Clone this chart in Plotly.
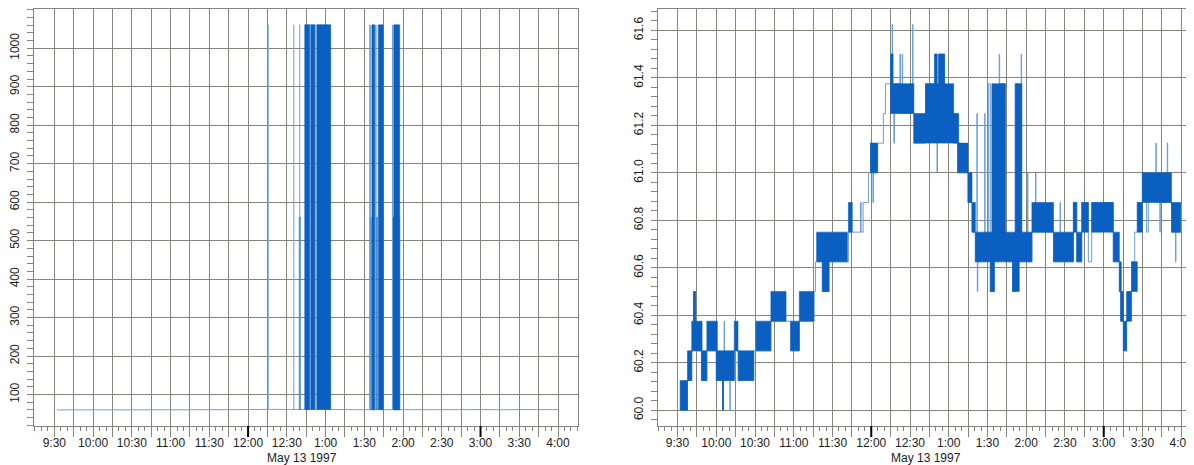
import pandas as pd
import plotly.graph_objects as go

OPEN = pd.Timestamp("1997-05-13 09:30")
DATE_LABEL = "May 13 1997"

# ---------------- cleaned trade path (minutes after the 9:30 open, price) ----------------
tick_min = [2.0, 7.7, 11.0, 12.4, 13.9, 18.5, 22.7, 30.0, 34.8, 35.6, 36.1, 36.4, 40.5, 40.8,
            43.9, 47.0, 59.0, 72.3, 84.0, 87.6, 94.3, 105.6, 106.8, 112.1, 117.3, 132.3,
            141.7, 142.2, 143.7, 147.8, 149.4, 151.3, 151.7, 154.9, 159.4, 161.0, 165.3,
            166.2, 166.5, 167.5, 168.0, 172.2, 172.6, 174.0, 174.3, 182.0, 182.3, 183.0,
            192.0, 199.1, 200.9, 201.3, 202.2, 206.8, 213.8, 216.9, 224.9, 228.0, 230.6,
            231.8, 232.1, 232.5, 237.8, 238.1, 240.9, 242.2, 245.3, 249.1, 249.4, 253.8,
            259.4, 261.5, 264.6, 266.1, 266.4, 271.0, 271.3, 274.4, 277.2, 277.5, 291.1,
            296.2, 296.5, 306.5, 309.1, 313.0, 318.1, 320.7, 337.4, 342.1, 343.1, 345.2,
            347.7, 349.0, 351.6, 354.0, 356.0, 359.9, 363.2, 364.5, 370.4, 370.7, 373.5,
            373.8, 379.2, 379.5, 382.5, 385.6, 385.9, 389.5, 390.0]
tick_price = [60.0, 60.125, 60.25, 60.5, 60.25, 60.125, 60.25, 60.125, 60.0, 60.125, 60.375,
              60.125, 60.0, 60.125, 60.25, 60.125, 60.25, 60.375, 60.375, 60.25, 60.375, 60.5,
              60.625, 60.5, 60.625, 60.75, 60.875, 60.75, 60.875, 61.0, 61.125, 60.875, 61.0,
              61.125, 61.25, 61.375, 61.5, 61.625, 61.25, 61.125, 61.375, 61.5, 61.25, 61.5,
              61.25, 61.625, 61.25, 61.125, 61.375, 61.5, 61.0, 61.25, 61.5, 61.25, 61.125,
              61.0, 60.875, 60.75, 60.625, 61.25, 60.5, 60.625, 61.25, 60.625, 61.375, 60.5,
              60.625, 61.5, 61.375, 60.625, 60.5, 61.375, 60.625, 61.5, 60.625, 61.0, 60.625,
              60.75, 61.0, 60.75, 60.625, 60.875, 60.625, 60.875, 60.625, 60.875, 60.625,
              60.875, 60.625, 60.5, 60.375, 60.25, 60.375, 60.5, 60.625, 60.75, 60.875, 61.0,
              60.75, 61.0, 61.125, 60.875, 60.75, 60.875, 61.125, 60.875, 60.75, 60.625, 60.75,
              60.875, 60.75]

# ---------------- dense trading bands (price bounced between low and high) ----------------
blk_start_min = [2.0, 7.7, 11.0, 12.4, 18.5, 22.7, 30.0, 34.8, 43.9, 47.0, 60.8, 72.3, 87.6,
                 94.3, 107.7, 112.1, 132.3, 149.4, 164.9, 164.9, 183.0, 192.0, 199.1, 202.2,
                 216.9, 224.9, 228.0, 230.6, 243.4, 242.2, 261.5, 259.4, 274.4, 291.1, 306.5,
                 309.1, 313.0, 320.7, 337.4, 342.1, 343.1, 345.2, 347.7, 351.6, 356.0, 359.9,
                 382.5]
blk_end_min = [7.7, 11.0, 19.0, 13.9, 22.7, 30.8, 43.9, 35.6, 46.8, 59.0, 72.3, 84.0, 94.3,
               105.6, 131.5, 117.3, 135.3, 154.9, 183.0, 166.9, 217.7, 213.8, 201.0, 206.8,
               224.9, 228.0, 230.6, 274.4, 253.8, 245.3, 266.6, 264.6, 291.1, 306.5, 309.1,
               313.0, 318.1, 337.4, 342.1, 343.6, 345.2, 347.7, 351.6, 356.0, 359.9, 382.5,
               389.5]
blk_low = [60.0, 60.125, 60.25, 60.375, 60.125, 60.25, 60.125, 60.0, 60.25, 60.125, 60.25,
           60.375, 60.25, 60.375, 60.625, 60.5, 60.75, 61.0, 61.25, 61.375, 61.125, 61.25,
           61.375, 61.375, 61.0, 60.875, 60.75, 60.625, 60.75, 60.5, 60.75, 60.5, 60.75,
           60.625, 60.75, 60.625, 60.75, 60.75, 60.625, 60.5, 60.375, 60.25, 60.375, 60.5,
           60.75, 60.875, 60.75]
blk_high = [60.125, 60.25, 60.375, 60.5, 60.25, 60.375, 60.25, 60.125, 60.375, 60.25, 60.375,
            60.5, 60.375, 60.5, 60.75, 60.625, 60.875, 61.125, 61.375, 61.5, 61.25, 61.375,
            61.5, 61.5, 61.125, 61.0, 60.875, 60.75, 61.375, 60.625, 61.375, 60.625, 60.875,
            60.75, 60.875, 60.75, 60.875, 60.875, 60.75, 60.625, 60.5, 60.375, 60.5, 60.625,
            60.875, 61.0, 60.875]

# ---------------- bad prints present only in the raw series (left panel) ----------------
bad_blk_start_min = [189.6, 193.9, 198.6, 203.2, 245.9, 251.0, 244.5, 249.3, 262.8, 262.3]
bad_blk_end_min = [190.4, 197.8, 201.7, 214.0, 248.1, 254.6, 245.3, 250.1, 267.4, 267.4]
bad_blk_low = [61.25, 61.25, 61.25, 61.25, 60.75, 60.75, 60.75, 60.75, 60.75, 60.75]
bad_blk_high = [561.25, 1061.25, 1061.25, 1061.25, 1060.75, 1060.75, 560.75, 560.75,
                1060.75, 560.75]
bad_tick_min = [165.6, 185.4, 190.0, 198.2, 202.4, 244.2, 244.9, 248.6, 249.8, 261.8]
bad_tick_low = [61.5, 61.25, 61.25, 61.25, 61.25, 60.75, 60.75, 60.75, 60.75, 60.75]
bad_tick_high = [1061.5, 1061.25, 1061.25, 1061.25, 1061.25, 1060.75, 1060.75, 1060.75,
                 1060.75, 1060.75]

# ---------------- axis ticks ----------------
xtick_labels = ["9:30", "10:00", "10:30", "11:00", "11:30", "12:00", "12:30",
                "1:00", "1:30", "2:00", "2:30", "3:00", "3:30", "4:00"]


def ts(m):
    return (OPEN + pd.Timedelta(minutes=m)).strftime("%Y-%m-%d %H:%M:%S.%f")[:-3]


def rects(starts, ends, lows, highs):
    xs, ys = [], []
    for s, e, lo, hi in zip(starts, ends, lows, highs):
        xs += [ts(s), ts(e), ts(e), ts(s), ts(s), None]
        ys += [lo, lo, hi, hi, lo, None]
    return xs, ys


def strokes(times, lows, highs):
    xs, ys = [], []
    for t, lo, hi in zip(times, lows, highs):
        xs += [ts(t), ts(t), None]
        ys += [lo, hi, None]
    return xs, ys


BLUE = "#0a5fc0"
LIGHT = "#6b9fd3"
GRID = "#85857d"
FONT = dict(family="Liberation Sans, Arial, sans-serif", size=12, color="#222222")

fig = go.Figure()
path_x = [ts(m) for m in tick_min]
bx, by = rects(blk_start_min, blk_end_min, blk_low, blk_high)

# left panel: raw series
fig.add_trace(go.Scatter(x=path_x, y=tick_price, mode="lines", xaxis="x", yaxis="y",
                         line=dict(shape="hv", width=1, color=LIGHT), hoverinfo="skip"))
gx, gy = rects(bad_blk_start_min, bad_blk_end_min, bad_blk_low, bad_blk_high)
fig.add_trace(go.Scatter(x=gx, y=gy, mode="lines", fill="toself", fillcolor=BLUE,
                         xaxis="x", yaxis="y", line=dict(width=0.6, color=BLUE),
                         hoverinfo="skip"))
sx, sy = strokes(bad_tick_min, bad_tick_low, bad_tick_high)
fig.add_trace(go.Scatter(x=sx, y=sy, mode="lines", xaxis="x", yaxis="y",
                         line=dict(width=1, color=LIGHT), hoverinfo="skip"))

# right panel: cleaned series
fig.add_trace(go.Scatter(x=path_x, y=tick_price, mode="lines", xaxis="x2", yaxis="y2",
                         line=dict(shape="hv", width=1, color=LIGHT), hoverinfo="skip"))
fig.add_trace(go.Scatter(x=bx, y=by, mode="lines", fill="toself", fillcolor=BLUE,
                         xaxis="x2", yaxis="y2", line=dict(width=0.6, color=BLUE),
                         hoverinfo="skip"))

# the page body adds an 8px margin, so the figure is laid out 8px in from the corner
OFF = 8
W, H = 1194 - OFF, 465 - OFF
y_dom = [1 - (426 - OFF) / H, 1.0]
left_dom = [(32 - OFF) / W, (577 - OFF) / W]
right_dom = [(657 - OFF) / W, 1.0]
grid_vals = [ts(m) for m in range(0, 391, 15)]
grid_text = [xtick_labels[i // 2] if i % 2 == 0 else "" for i in range(len(grid_vals))]

xcommon = dict(type="date", tickmode="array", tickvals=grid_vals, ticktext=grid_text,
               ticks="outside", ticklen=10, tickcolor=GRID, tickwidth=1,
               showgrid=True, gridcolor=GRID, gridwidth=1, showline=True,
               linecolor=GRID, linewidth=1, mirror=True, tickfont=FONT, zeroline=False,
               ticklabelstandoff=-4,
               minor=dict(tick0=ts(0), dtick=5 * 60 * 1000, ticks="outside", ticklen=4,
                          tickcolor=GRID, showgrid=False))
ycommon = dict(ticks="outside", ticklen=6, tickcolor=GRID, tickangle=-90, showgrid=True,
               gridcolor=GRID, gridwidth=1, showline=True, linecolor=GRID, linewidth=1,
               tickfont=FONT, zeroline=False, ticklabelstandoff=3)

fig.update_layout(
    width=W, height=H, margin=dict(l=0, r=0, t=0, b=0), autosize=False,
    paper_bgcolor="white", plot_bgcolor="white", showlegend=False,
    xaxis=dict(domain=left_dom, anchor="y", range=[ts(-15.8), ts(405.5)], **xcommon),
    xaxis2=dict(domain=right_dom, anchor="y2", range=[ts(-15.2), ts(399.9)], **xcommon),
    yaxis=dict(domain=y_dom, anchor="x", range=[18, 1102], tickmode="linear", tick0=0,
               dtick=100, mirror=True,
               minor=dict(dtick=20, tick0=0, ticks="outside", ticklen=6, tickcolor=GRID,
                          showgrid=False), **ycommon),
    yaxis2=dict(domain=y_dom, anchor="x2", range=[59.933, 61.69], tickmode="linear",
                tick0=60, dtick=0.2, tickformat=".1f", mirror=False,
                minor=dict(dtick=0.04, tick0=60, ticks="outside", ticklen=6,
                           tickcolor=GRID, showgrid=False), **ycommon),
)

# heavier black ticks marking 12:00 and 3:00
for ax in ["x", "x2"]:
    for m in [150, 330]:
        fig.add_shape(type="line", xref=ax, yref="paper", x0=ts(m), x1=ts(m),
                      y0=y_dom[0], y1=y_dom[0] - 11 / H, line=dict(color="black", width=2))

for dom in [left_dom, [(657 - OFF) / W, (1202 - OFF) / W]]:
    fig.add_annotation(text=DATE_LABEL, xref="paper", yref="paper",
                       x=(dom[0] + dom[1]) / 2 - 4 / W,
                       y=1 - (457.5 - OFF) / H, showarrow=False, xanchor="center",
                       yanchor="middle", font=FONT)

fig.write_html("out.html")
